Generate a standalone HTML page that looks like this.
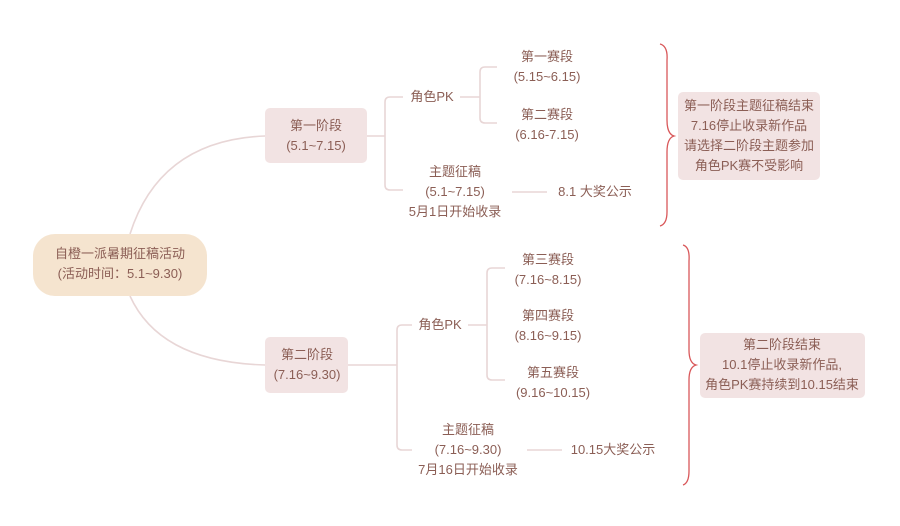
<!DOCTYPE html>
<html><head><meta charset="utf-8"><style>
body{margin:0;width:900px;height:526px;background:#fff;overflow:hidden;position:relative;font-family:"Liberation Sans","Noto Sans CJK SC",sans-serif;color:#8b5e55;font-size:13px}
.t{position:absolute;text-align:center;line-height:20px;white-space:nowrap;transform:translateX(-50%)}
.b{position:absolute;border-radius:5px;background:#f2e3e3}
svg{position:absolute;left:0;top:0}
</style></head><body>
<svg width="900" height="526" fill="none">
<g stroke="#e8d6d6" stroke-width="1.6">
<path d="M130 234 Q160 140 265 136"/>
<path d="M130 296 Q160 362 265 365"/>
<path d="M367 136 H385 M403 97 H390 Q385 97 385 102 V185 Q385 190 390 190 H403"/>
<path d="M460 97 H480 M497 67 H485 Q480 67 480 72 V118 Q480 123 485 123 H497"/>
<path d="M512 192 H547"/>
<path d="M348 365 H397 M412 325 H402 Q397 325 397 330 V445 Q397 450 402 450 H412"/>
<path d="M468 325 H487 M505 268 H492 Q487 268 487 273 V375 Q487 380 492 380 H505"/>
<path d="M527 450 H562"/>
</g>
<g stroke="#d9585a" stroke-width="1.3">
<path d="M660 44 Q668 46 667 60 V120 Q667 134 674 136 Q667 138 667 152 V212 Q667 224 660 226"/>
<path d="M683 245 Q690 247 689 261 V350 Q689 363 696 365 Q689 367 689 380 V471 Q689 483 683 485"/>
</g>
</svg>
<div class="b" style="left:33px;top:234px;width:174px;height:62px;border-radius:22px;background:#f5e4cf"></div>
<div class="t" style="left:120px;top:244px">自橙一派暑期征稿活动<br>(活动时间：5.1~9.30)</div>
<div class="b" style="left:265px;top:108px;width:102px;height:55px"></div>
<div class="t" style="left:316px;top:116px">第一阶段<br>(5.1~7.15)</div>
<div class="t" style="left:432px;top:87px">角色PK</div>
<div class="t" style="left:547px;top:47px">第一赛段<br>(5.15~6.15)</div>
<div class="t" style="left:547px;top:105px">第二赛段<br>(6.16-7.15)</div>
<div class="t" style="left:455px;top:162px">主题征稿<br>(5.1~7.15)<br>5月1日开始收录</div>
<div class="t" style="left:595px;top:182px">8.1 大奖公示</div>
<div class="b" style="left:678px;top:92px;width:142px;height:88px"></div>
<div class="t" style="left:749px;top:96px">第一阶段主题征稿结束<br>7.16停止收录新作品<br>请选择二阶段主题参加<br>角色PK赛不受影响</div>
<div class="b" style="left:265px;top:337px;width:83px;height:56px"></div>
<div class="t" style="left:307px;top:345px">第二阶段<br>(7.16~9.30)</div>
<div class="t" style="left:440px;top:315px">角色PK</div>
<div class="t" style="left:548px;top:250px">第三赛段<br>(7.16~8.15)</div>
<div class="t" style="left:548px;top:306px">第四赛段<br>(8.16~9.15)</div>
<div class="t" style="left:553px;top:363px">第五赛段<br>(9.16~10.15)</div>
<div class="t" style="left:468px;top:420px">主题征稿<br>(7.16~9.30)<br>7月16日开始收录</div>
<div class="t" style="left:613px;top:440px">10.15大奖公示</div>
<div class="b" style="left:700px;top:333px;width:165px;height:65px"></div>
<div class="t" style="left:782px;top:335px">第二阶段结束<br>10.1停止收录新作品,<br>角色PK赛持续到10.15结束</div>
</body></html>
